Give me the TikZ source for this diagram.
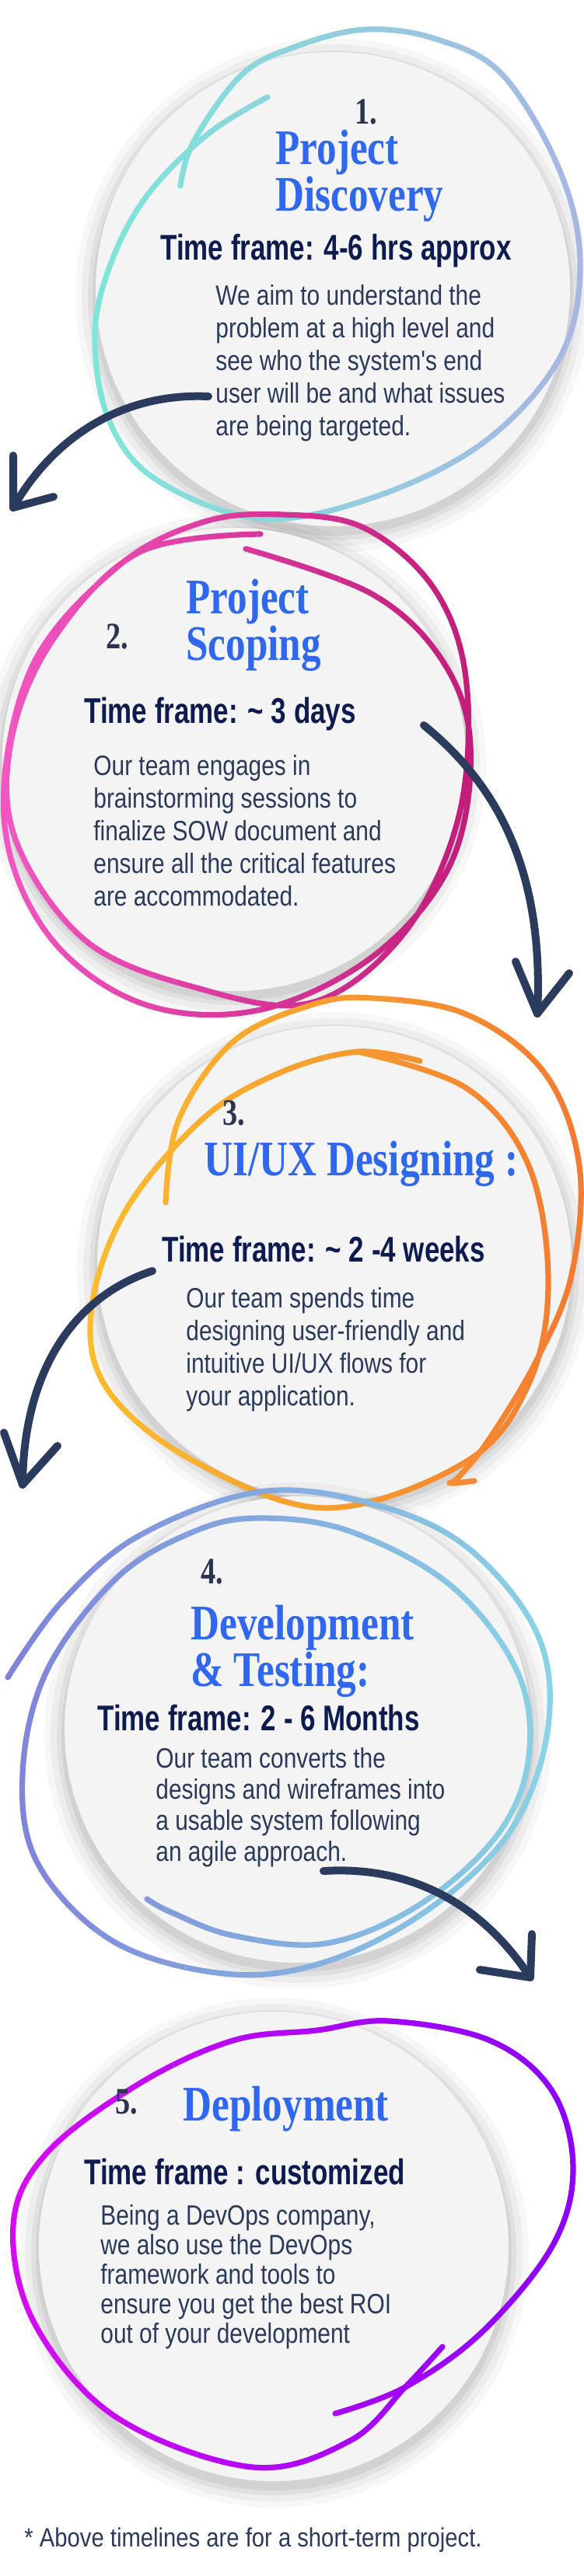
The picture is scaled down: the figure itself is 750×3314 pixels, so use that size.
\documentclass[tikz,border=0pt]{standalone}
\usepackage{fontspec}
\setmainfont{Liberation Sans}
\newfontfamily\titlef[FakeStretch=0.8]{Liberation Serif}
\newfontfamily\bodyf[FakeStretch=0.83]{Liberation Sans}
\newfontfamily\tff[FakeStretch=0.76]{Liberation Sans}
\newfontfamily\footf[FakeStretch=0.86]{Liberation Sans}
\definecolor{titleblue}{HTML}{2F68EE}
\definecolor{numc}{HTML}{2B3550}
\definecolor{tfc}{HTML}{0D1B4F}
\definecolor{bodyc}{HTML}{2B3A5A}
\definecolor{arrc}{HTML}{2A3B5E}
\definecolor{fillc}{HTML}{F4F4F4}
\definecolor{a1}{HTML}{7EE6D9}\definecolor{b1}{HTML}{A8B6E4}
\definecolor{a2}{HTML}{F356C2}\definecolor{b2}{HTML}{C01C78}
\definecolor{a3}{HTML}{FBBD2E}\definecolor{b3}{HTML}{F47A32}
\definecolor{a4}{HTML}{7F84DA}\definecolor{b4}{HTML}{8AD3E5}
\definecolor{a5}{HTML}{D40BF2}\definecolor{b5}{HTML}{8A00FF}
\tikzset{
 ringline/.style={line width=3.6pt, line cap=round, line join=round},
 arr/.style={draw=arrc, line width=5pt, line cap=round, line join=round},
 num/.style={font=\titlef\bfseries\fontsize{24}{24}\selectfont, text=numc, inner sep=0, anchor=north},
 ttl/.style={font=\titlef\bfseries\fontsize{32}{28.5}\selectfont, text=titleblue, inner sep=0, anchor=north west, align=left},
 tf/.style={font=\tff\bfseries\fontsize{23}{23}\selectfont, text=tfc, inner sep=0, anchor=north west},
 body/.style={font=\bodyf\fontsize{18}{21}\selectfont, text=bodyc, inner sep=0, anchor=north west, align=left},
 disc/.style={fill=fillc},
}
% #1 left col, #2 right col, #3 xmin, #4 xmax, #5 coords (relative), #6 canvas yshift
\newcommand\gring[6]{%
 \begin{scope}[transform canvas={yshift=#6}]
 \foreach \k in {0,...,23}{%
  \pgfmathsetmacro\xa{#3+(#4-#3)/24*\k}%
  \pgfmathsetmacro\xb{#3+(#4-#3)/24*(\k+1)+0.4}%
  \pgfmathtruncatemacro\pc{100/23*\k}%
  \begin{scope}
   \clip (\xa,-100) rectangle (\xb,800);
   \draw[ringline, color=#2!\pc!#1] plot[smooth, tension=0.6] coordinates {#5};
  \end{scope}}
 \end{scope}}
\newcommand\softdisc[3]{%
 \foreach \e/\o in {26/0.03,18/0.04,10/0.05,4/0.06}{\fill[black, opacity=\o] (#1,#2+8) circle (#3+\e);}
 \fill[disc] (#1,#2) circle (#3);}
\begin{document}
\begin{tikzpicture}[x=0.5pt,y=-0.5pt]
\useasboundingbox[fill=white] (0,0) rectangle (750,3314);
% discs
\softdisc{428}{372}{305}
\softdisc{301}{977}{298}
\softdisc{430}{1625}{305}
\softdisc{383}{2225}{300}
\softdisc{352}{2890}{302}
% ---- section 1
\gring{a1}{b1}{110}{760}{(344,125) (268,172) (191,249) (144,335) (122,430) (140,540) (201,617) (335,667) (480,640) (622,569) (720,460) (746,340) (720,220) (646,96) (560,50) (469,38) (380,60) (311,96) (249,182) (232,239)}{0pt}
\node[num] (n1) at (471,127) {1.};
\node[ttl] (t1) at (354,167) {Project\\Discovery};
\node[tf] (f1) at (206,301) {Time frame: 4-6 hrs approx};
\node[body] (b1) at (277,366) {We aim to understand the\\problem at a high level and\\see who the system's end\\user will be and what issues\\are being targeted.};
\coordinate (s1) at (268,510); \coordinate (e1) at (17,653);
\coordinate (h1a) at (17,586); \coordinate (h1b) at (69,639);
\draw[arr] (s1) .. controls (160,505) and (70,560) .. (e1);
\draw[arr] (h1a) -- (e1) -- (h1b);
% ---- section 2
\gring{a2}{b2}{-10}{620}{(316,86) (478,144) (569,230) (605,340) (580,490) (480,610) (330,680) (180,670) (60,580) (5,430) (40,240) (150,110) (260,52) (364,42) (470,60) (560,140) (600,260) (590,430) (520,580) (400,670) (250,650) (110,590) (20,460) (15,330) (70,200) (180,90) (335,67)}{-310pt}
\node[num] (n2) at (151,802) {2.};
\node[ttl] (t2) at (239,745) {Project\\Scoping};
\node[tf] (f2) at (108,897) {Time frame: \textasciitilde\ 3 days};
\node[body] (b2) at (120,971) {Our team engages in\\brainstorming sessions to\\finalize SOW document and\\ensure all the critical features\\are accommodated.};
\coordinate (s2) at (545,933); \coordinate (e2) at (691,1304);
\coordinate (h2a) at (663,1237); \coordinate (h2b) at (732,1252);
\draw[arr] (s2) .. controls (640,1010) and (700,1120) .. (e2);
\draw[arr] (h2a) -- (e2) -- (h2b);
% ---- section 3
\gring{a3}{b3}{100}{760}{(213,297) (230,190) (300,90) (400,43) (478,34) (600,55) (700,130) (745,250) (735,390) (690,500) (630,600) (590,650) (579,658) (610,655)}{-625pt}
\gring{a3}{b3}{100}{760}{(460,103) (600,150) (680,250) (705,400) (680,530) (600,630) (420,690) (250,630) (140,540) (117,440) (160,310) (260,190) (360,130) (460,103) (540,115)}{-625pt}
\node[num] (n3) at (301,1415) {3.};
\node[ttl] (t3) at (262,1468) {UI/UX Designing :};
\node[tf] (f3) at (208,1590) {Time frame: \textasciitilde\ 2 -4 weeks};
\node[body] (b3) at (239,1656) {Our team spends time\\designing user-friendly and\\intuitive UI/UX flows for\\your application.};
\coordinate (s3) at (196,1635); \coordinate (e3) at (29,1910);
\coordinate (h3a) at (5,1843); \coordinate (h3b) at (74,1860);
\draw[arr] (s3) .. controls (90,1670) and (30,1770) .. (e3);
\draw[arr] (h3a) -- (e3) -- (h3b);
% ---- section 4
\gring{a4}{b4}{0}{715}{(10,258) (80,160) (180,75) (335,19) (480,35) (600,90) (690,200) (705,320) (660,450) (560,550) (430,620) (300,640) (150,600) (50,500) (29,383) (60,250) (150,130) (250,70) (335,53) (450,70) (580,140) (665,250) (680,360) (640,460) (540,550) (420,600) (300,590) (220,560) (189,543)}{-950pt}
\node[num] (n4) at (273,2005) {4.};
\node[ttl] (t4) at (245,2065) {Development\\\& Testing:};
\node[tf] (f4) at (125,2193) {Time frame: 2 - 6 Months};
\node[body, font=\bodyf\fontsize{18}{20}\selectfont] (b4) at (200,2248) {Our team converts the\\designs and wireframes into\\a usable system following\\an agile approach.};
\coordinate (s4) at (416,2407); \coordinate (e4) at (682,2544);
\coordinate (h4a) at (684,2488); \coordinate (h4b) at (617,2534);
\draw[arr] (s4) .. controls (530,2400) and (620,2450) .. (e4);
\draw[arr] (h4a) -- (e4) -- (h4b);
% ---- section 5
\gring{a5}{b5}{5}{750}{(431,505) (521,471) (620,400) (710,290) (737,190) (710,90) (630,25) (500,0) (407,12) (300,25) (180,80) (60,170) (17,263) (45,390) (150,510) (325,574) (450,540) (521,471) (569,419)}{-1300pt}
\node[num] (n5) at (163,2688) {5.};
\node[ttl] (t5) at (235,2684) {Deployment};
\node[tf] (f5) at (108,2777) {Time frame : customized};
\node[body, font=\bodyf\fontsize{18}{19}\selectfont] (b5) at (129,2836) {Being a DevOps company,\\we also use the DevOps\\framework and tools to\\ensure you get the best ROI\\out of your development};
% footnote
\node[inner sep=0, anchor=north west, text=bodyc, font=\footf\fontsize{17}{17}\selectfont] (fn) at (31,3251) {* Above timelines are for a short-term project.};
\end{tikzpicture}
\end{document}
